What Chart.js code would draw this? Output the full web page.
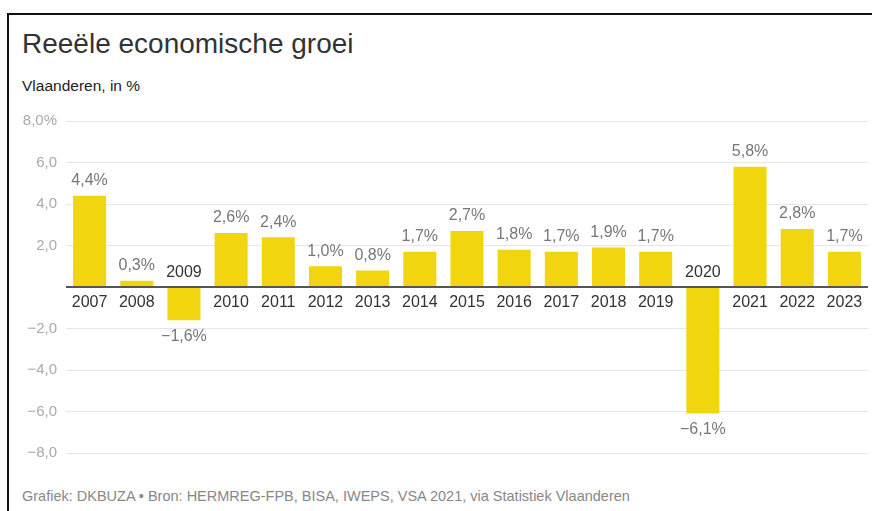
<!DOCTYPE html>
<html>
<head>
<meta charset="utf-8">
<script src="https://cdn.jsdelivr.net/npm/chart.js@4"></script>
<style>
  body { margin: 0; background: #fff; font-family: "Liberation Sans", Arial, sans-serif; }
  #frame { position: absolute; left: 7px; top: 13px; width: 880px; height: 520px;
           border-top: 2px solid #111; border-left: 2px solid #111; }
  #title { position: absolute; left: 22px; top: 28px; font-size: 28px; color: #333; }
  #sub { position: absolute; left: 22px; top: 77px; font-size: 15.5px; color: #222; }
  #foot { position: absolute; left: 22px; top: 488px; font-size: 14.5px; color: #888; }
  #wrap { position: absolute; left: 0; top: 101px; width: 872px; height: 370px; }
</style>
</head>
<body>
<div id="frame"></div>
<div id="title">Reeële economische groei</div>
<div id="sub">Vlaanderen, in %</div>
<div id="wrap"><canvas id="growthChart"></canvas></div>
<div id="foot">Grafiek: DKBUZA • Bron: HERMREG-FPB, BISA, IWEPS, VSA 2021, via Statistiek Vlaanderen</div>
<script>
const years = ['2007', '2008', '2009', '2010', '2011', '2012', '2013', '2014', '2015',
  '2016', '2017', '2018', '2019', '2020', '2021', '2022', '2023'];
const growth = [4.4, 0.3, -1.6, 2.6, 2.4, 1.0, 0.8, 1.7, 2.7, 1.8, 1.7, 1.9, 1.7, -6.1, 5.8, 2.8, 1.7];

const growthChart = document.getElementById('growthChart');
const FONT = '"Liberation Sans", Arial, sans-serif';

function fmt(v, digits) {
  let s = Math.abs(v).toFixed(digits).replace('.', ',');
  return (v < 0 ? '\u2212' : '') + s;
}

// value labels and year labels next to the bars
const barLabels = {
  id: 'barLabels',
  afterDatasetsDraw(chart) {
    const ctx = chart.ctx;
    const meta = chart.getDatasetMeta(0);
    ctx.save();
    ctx.font = '16px ' + FONT;
    ctx.textAlign = 'center';
    ctx.textBaseline = 'middle';
    meta.data.forEach((bar, i) => {
      const v = growth[i];
      ctx.fillStyle = '#777';
      if (v >= 0) {
        ctx.fillText(fmt(v, 1) + '%', bar.x, bar.y - 15);
        ctx.fillStyle = '#333';
        ctx.fillText(years[i], bar.x, bar.base + 17);
      } else {
        ctx.fillText(fmt(v, 1) + '%', bar.x, bar.y + 16);
        ctx.fillStyle = '#333';
        ctx.fillText(years[i], bar.x, bar.base - 15);
      }
    });
    ctx.restore();
  }
};

new Chart(growthChart, {
  type: 'bar',
  data: {
    labels: years,
    datasets: [
      {
        data: growth,
        backgroundColor: '#f0d50f',
        barPercentage: 0.7,
        categoryPercentage: 1,
      },
    ],
  },
  options: {
    responsive: true,
    maintainAspectRatio: false,
    animation: false,
    layout: { padding: { top: 20, bottom: 17, right: 4, left: 0 } },
    plugins: {
      legend: { display: false },
      tooltip: { enabled: false },
    },
    scales: {
      x: { display: false },
      y: {
        min: -8,
        max: 8,
        ticks: {
          stepSize: 2,
          padding: 9,
          color: '#aaa',
          font: { family: FONT, size: 15 },
          callback: (v) => (v === 0 ? '' : fmt(v, 1) + (v === 8 ? '%' : '')),
        },
        grid: {
          drawTicks: false,
          color: (c) => (c.tick && c.tick.value === 0 ? '#555' : '#e6e6e6'),
          lineWidth: (c) => (c.tick && c.tick.value === 0 ? 2 : 1),
        },
        border: { display: false },
        afterFit: (scale) => { scale.width = 66; },
      },
    },
  },
  plugins: [barLabels],
});
</script>
</body>
</html>
